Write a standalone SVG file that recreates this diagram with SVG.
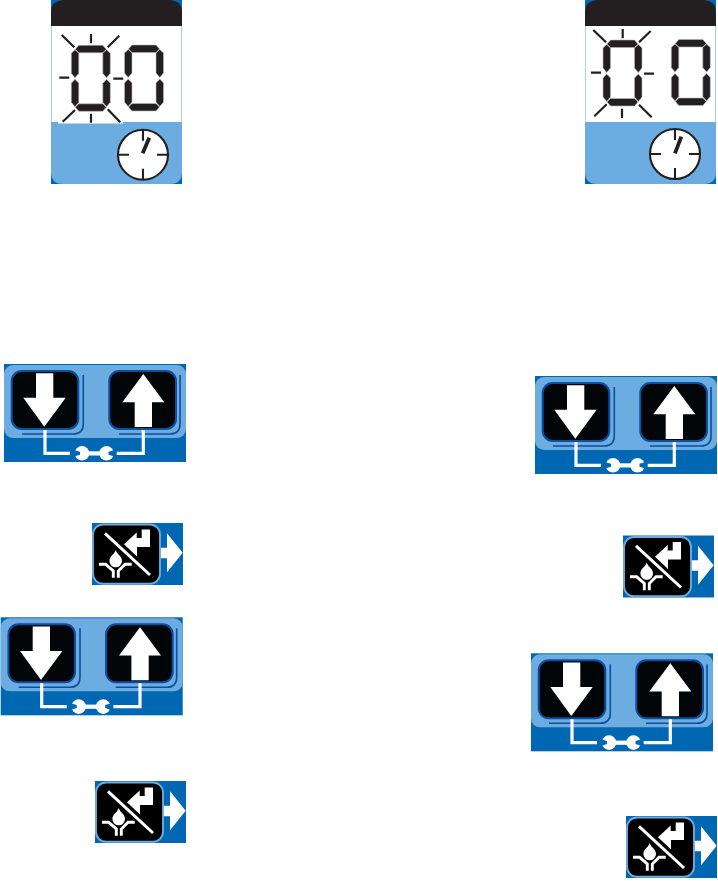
<svg xmlns="http://www.w3.org/2000/svg" width="718" height="881" viewBox="0 0 718 881">
<style>
.blue{fill:#0068b3}
.light{fill:#6cace0}
.ink{fill:#231f20}
.seg{fill:#231f20;stroke:#b9b9b9;stroke-width:.6}
.ray{stroke:#231f20;stroke-width:2.2;fill:none}
.tick{stroke:#231f20;stroke-width:2.1;fill:none}
.wl{fill:none;stroke:#fff;stroke-width:3.2}
.w{fill:#fff}
.btn{fill:#020608;stroke:#0b4f9f;stroke-width:2}
.edge{fill:none;stroke:#0b4f9f;stroke-width:1.6}
</style>
<defs>
<g id="digit">
<polygon class="seg" points="3.5,4 7,0 31,0 34.5,4 31,7.5 7,7.5"/>
<polygon class="seg" points="-.5,8 3.2,4.5 7,8 7,28 3.2,32.5 -.5,28"/>
<polygon class="seg" points="31,8 34.8,4.5 38.5,8 38.5,28 34.8,32.5 31,28"/>
<polygon class="seg" points="-.5,38 3.2,34 7,38 7,57 3.2,61.5 -.5,57"/>
<polygon class="seg" points="31,38 34.8,34 38.5,38 38.5,57 34.8,61.5 31,57"/>
<polygon class="seg" points="3.5,62 7,58.5 31,58.5 34.5,62 31,66 7,66"/>
</g>
<g id="panel">
<rect class="blue" x="0" y="0" width="131" height="184"/>
<path class="ink" d="M0 26V12Q0 1 12 0H119Q131 1 131 12V26Z"/>
<rect x="0" y="26" width="131" height="97" fill="#fff"/>
<path class="light" d="M0 122H131V172Q131 184 119 184H12Q0 184 0 172Z"/>
<path d="M.5 26V122M130.5 26V122" stroke="#a9cdec" stroke-width="1" fill="none"/>
</g>
<g id="clock">
<circle r="25" fill="#fff" stroke="#231f20" stroke-width="2.1"/>
<path class="tick" d="M0-25V-14M0 25V14M-25 0H-14M25 0H14"/>
</g>
<g id="buttons">
<rect class="blue" width="182" height="98"/>
<rect class="light" x="0" y="1" width="182" height="73" rx="9"/>
<rect class="btn" x="7.7" y="7" width="66.6" height="58" rx="10"/>
<path class="edge" d="M79.3 11V60Q79.3 70 69 70H18"/>
<rect class="btn" x="105.3" y="7" width="66.7" height="58" rx="10"/>
<path class="edge" d="M176 11V60Q176 70 166 70H115"/>
<polygon class="w" points="32,9.3 49.3,9.3 49.3,33.7 61.7,33.7 40.3,62.7 19.3,33.7 32,33.7"/>
<polygon class="w" points="139.3,10 160.3,38.3 148,38.3 148,63 130.7,63 130.7,38.3 118.3,38.3"/>
<path class="wl" d="M41 66V89.3H66M139.3 66V89.3H112.7"/>
<circle class="w" cx="78" cy="89.3" r="7.3"/>
<circle class="w" cx="102.5" cy="89.3" r="7.3"/>
<rect class="w" x="78" y="87.3" width="25" height="4.2"/>
<polygon class="blue" points="70,86 76,87.8 76,90.8 70,92.6"/>
<polygon class="blue" points="110.5,86 104.5,87.8 104.5,90.8 110.5,92.6"/>
</g>
<g id="water">
<rect class="blue" width="91" height="62"/>
<polygon class="w" points="68,24.7 75,24.7 75,10.3 90.7,29.7 75,49.3 75,35.3 68,35.3"/>
<rect x="1" y="1.5" width="67" height="59.3" rx="10" fill="#000" stroke="#6cace0" stroke-width="1.9"/>
<polygon class="w" points="32,21.3 44.7,9.5 44.7,15 49.7,15 49.7,6.5 58,6.5 58,24 45,24 45,33.5"/>
<path d="M13 10.3L58 52" stroke="#000" stroke-width="7.5" fill="none"/>
<path d="M13 10.3L58 52" stroke="#fff" stroke-width="3" fill="none"/>
<path class="w" d="M23.7 27C25 31.5 30 33 30 38A6.3 6.3 0 0 1 17.4 38C17.4 33 22.4 31.5 23.7 27Z"/>
<path d="M7 41.3H13.7L21.3 48V54.7M39.7 41.3H33L26.3 48V54.7" stroke="#fff" stroke-width="2.9" fill="none"/>
</g>
</defs>

<g id="display-left">
<use href="#panel" x="51" y="0"/>
<rect x="58" y="120" width="65" height="3.5" fill="#fff"/>
<path class="ray" d="M61.7 35L74.3 47.3M91 34V43.3M119.3 35.7L107.7 47.3M59.3 77.7H69.3M113.3 78.7H123.3M62.7 121.7L75 110M91 113.7V122.7M120.3 122.3L107.7 109.3"/>
<use href="#digit" x="71.8" y="45.3"/>
<use href="#digit" x="125" y="45"/>
<use href="#clock" x="143" y="154.7"/>
<path d="M142.7 153.3L149.3 137.7" stroke="#231f20" stroke-width="3.8"/>
</g>

<g id="display-right">
<use href="#panel" x="585" y="0"/>
<path class="ray" d="M593.3 30L606 42.3M622.7 29V38.3M650.7 31L639 42.3M591 72.7H601M644 73.7H654M594.3 116.3L606.7 104.3M622 108.7V118M651.7 117.3L639 104.7"/>
<use href="#digit" x="603.5" y="40"/>
<use href="#digit" x="671.8" y="39.5"/>
<use href="#clock" x="675" y="154"/>
<path d="M675 153.3L681.3 136.7" stroke="#231f20" stroke-width="3.8"/>
</g>

<g id="buttons-1"><use href="#buttons" x="4" y="364"/></g>
<g id="water-1"><use href="#water" x="92" y="523"/></g>
<g id="buttons-2"><use href="#buttons" x=".7" y="617.3"/></g>
<g id="water-2"><use href="#water" x="95" y="781"/></g>
<g id="buttons-3"><use href="#buttons" x="535" y="376"/></g>
<g id="water-3"><use href="#water" x="623" y="535.5"/></g>
<g id="buttons-4"><use href="#buttons" x="531" y="653.3"/></g>
<g id="water-4"><use href="#water" x="626" y="816"/></g>
</svg>
